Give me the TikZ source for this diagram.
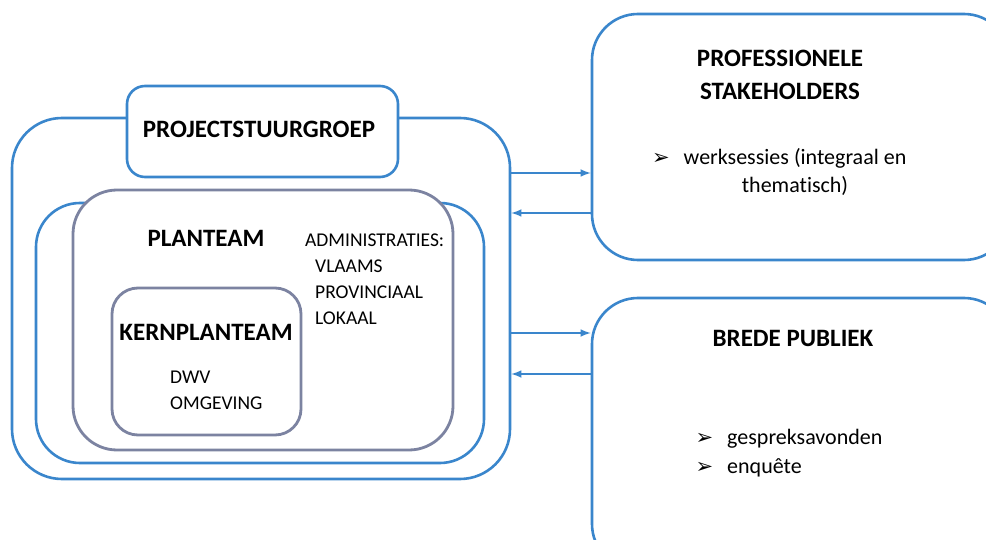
\documentclass[tikz,border=0pt]{standalone}
\usepackage{fontspec}
\setmainfont{Carlito}[Ligatures=NoCommon]
\newfontfamily\arrowfont{DejaVu Sans}
\usetikzlibrary{shapes,arrows}
\definecolor{frameblue}{RGB}{58,134,204}
\definecolor{teamgray}{RGB}{124,131,161}
\newcommand{\listmark}{{\arrowfont\fontsize{21}{21}\selectfont ➢}}

\begin{document}
\begin{tikzpicture}[x=1pt,y=-1pt]
		\tikzstyle {blue box} = [draw=frameblue, line width=2.6pt, fill=white, inner sep=0pt]
		\tikzstyle {gray box} = [draw=teamgray, line width=2.8pt, fill=white, inner sep=0pt]
		\tikzstyle {title} = [inner sep=0pt, anchor=base, font=\fontsize{25}{33}\selectfont\bfseries]
		\tikzstyle {body} = [inner sep=0pt, anchor=base west, align=left, font=\fontsize{19.5}{26}\selectfont]
		\tikzstyle {list} = [inner sep=0pt, anchor=base, font=\fontsize{22}{28.5}\selectfont]
		\tikzstyle {link} = [draw=frameblue, line width=2.4pt, -latex]

		\useasboundingbox (0,0) rectangle (986,540);
		\clip (0,0) rectangle (986,540);

		% projectstuurgroep with planteam and kernplanteam
		\node[blue box, rounded corners=50pt, minimum width=498pt, minimum height=361pt] (projectframe) at (261,298.5) {};
		\node[blue box, rounded corners=18pt, minimum width=271pt, minimum height=91pt] (stuurgroep) at (262.5,131.5) {};
		\node[blue box, rounded corners=44pt, minimum width=448pt, minimum height=260pt] (planframe) at (260,333) {};
		\node[gray box, rounded corners=44pt, minimum width=380pt, minimum height=260pt] (planteam) at (263,320) {};
		\node[gray box, rounded corners=26pt, minimum width=189pt, minimum height=147pt] (kernplanteam) at (206.5,361.5) {};

		\node[title] (stuurgroep title) at (259,138) {PROJECTSTUURGROEP};
		\node[title] (planteam title) at (206,247) {PLANTEAM};
		\node[body] (administraties) at (305,325) {ADMINISTRATIES:\\\hspace*{10pt}VLAAMS\\\hspace*{10pt}PROVINCIAAL\\\hspace*{10pt}LOKAAL};
		\node[title] (kern title) at (206,341) {KERNPLANTEAM};
		\node[body] (kern text) at (170,409) {DWV\\OMGEVING};

		% stakeholders
		\node[blue box, rounded corners=46pt, minimum width=418pt, minimum height=246pt] (professioneel) at (801,137) {};
		\node[blue box, rounded corners=46pt, minimum width=418pt, minimum height=272pt] (publiek) at (801,434) {};

		\node[title, align=center] (professioneel title) at (780,100) {PROFESSIONELE\\STAKEHOLDERS};
		\node[list, align=center] (professioneel text) at (795,193) {\llap{\listmark\hspace{14pt}}werksessies (integraal en\\thematisch)};
		\node[title] (publiek title) at (793,346) {BREDE PUBLIEK};
		\node[list, anchor=base west, align=left] (publiek text) at (727,473) {\llap{\listmark\hspace{14pt}}gespreksavonden\\\llap{\listmark\hspace{14pt}}enquête};

		% links
		\coordinate (prof in) at ([yshift=125.5pt]projectframe.east);
		\coordinate (prof out) at ([yshift=85.5pt]projectframe.east);
		\coordinate (publiek in) at ([yshift=-34.5pt]projectframe.east);
		\coordinate (publiek out) at ([yshift=-75.5pt]projectframe.east);
		\draw[link] (prof in) -- (prof in -| professioneel.west);
		\draw[link] (prof out -| professioneel.west) -- (prof out);
		\draw[link] (publiek in) -- (publiek in -| publiek.west);
		\draw[link] (publiek out -| publiek.west) -- (publiek out);
\end{tikzpicture}
\end{document}
